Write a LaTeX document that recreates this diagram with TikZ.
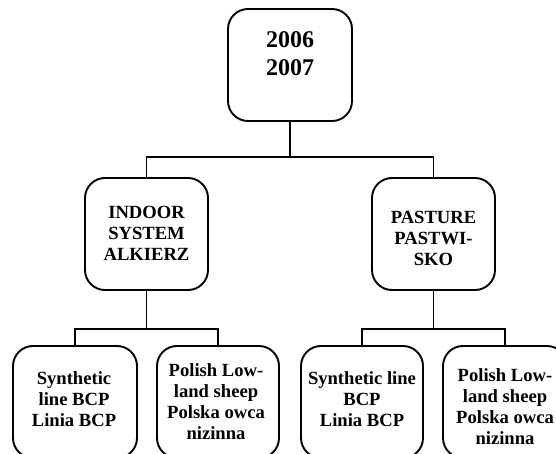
\documentclass[tikz,border=0pt]{standalone}
\usepackage{fontspec}
\setmainfont{Liberation Serif}
\begin{document}
\begin{tikzpicture}[x=1pt,y=-1pt,
  box/.style={draw, line width=1.9pt, rounded corners=20pt, minimum width=#1, minimum height=112pt, inner sep=0pt},
  box/.default=123pt,
  lbl/.style={align=center, font=\bfseries\fontsize{18.6}{21}\selectfont, inner sep=0pt},
  big/.style={align=center, font=\bfseries\fontsize{24}{28}\selectfont, inner sep=0pt},
  wire/.style={line width=1.9pt}]
\useasboundingbox (0,0) rectangle (556,454);
% boxes
\node[box=124pt] (top) at (290,65) {};
\node[box] (indoor) at (146.5,234) {};
\node[box] (pasture) at (433.5,234) {};
\node[box=124pt] (b1) at (75,402) {};
\node[box=122pt] (b2) at (218,402) {};
\node[box=122pt] (b3) at (362,402) {};
\node[box=124pt] (b4) at (505,402) {};
% texts
\node[big] (ttop) at (290,54) {2006\\2007};
\node[lbl] (tindoor) at (146.5,233) {INDOOR\\SYSTEM\\ALKIERZ};
\node[lbl] (tpasture) at (433.5,238) {PASTURE\\PASTWI-\\SKO};
\node[lbl] (tb1) at (74,399) {Synthetic\\line BCP\\Linia BCP};
\node[lbl] (tb2) at (216,401.5) {Polish Low-\\land sheep\\Polska owca\\nizinna};
\node[lbl] (tb3) at (362,399) {Synthetic line\\BCP\\Linia BCP};
\node[lbl] (tb4) at (505,406.5) {Polish Low-\\land sheep\\Polska owca\\nizinna};
% connectors
\coordinate (j0) at (290,157);
\coordinate (j1) at (146.5,329);
\coordinate (j2) at (433.5,329);
\draw[wire] (top.south) -- (j0);
\draw[wire] (indoor.north) |- (j0) -| (pasture.north);
\draw[wire] (indoor.south) -- (j1);
\draw[wire] (b1.north) |- (j1) -| (b2.north);
\draw[wire] (pasture.south) -- (j2);
\draw[wire] (b3.north) |- (j2) -| (b4.north);
\end{tikzpicture}
\end{document}
